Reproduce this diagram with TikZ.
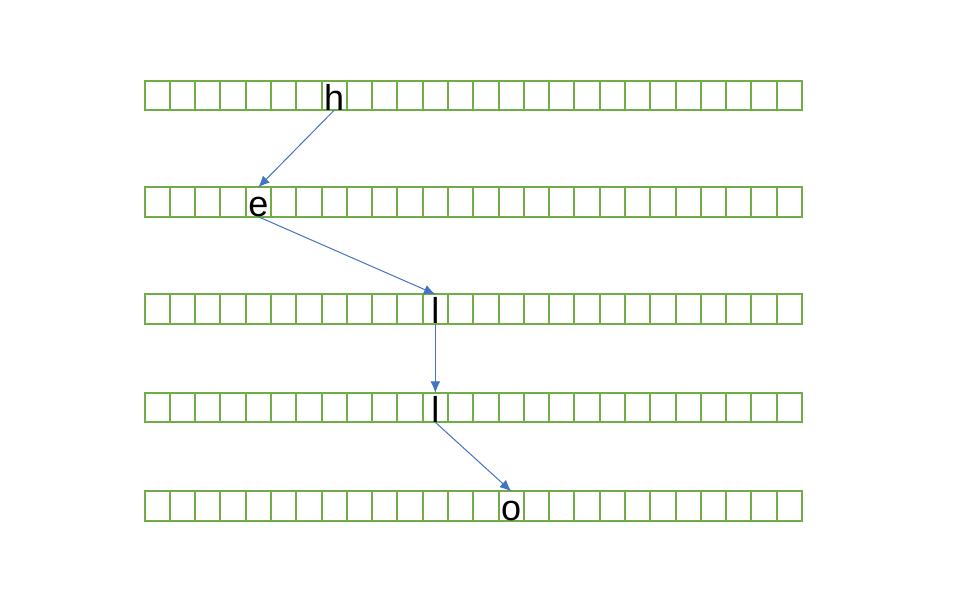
\documentclass[tikz,border=0pt]{standalone}
\usepackage{fontspec}
\setmainfont{Liberation Sans}
\usetikzlibrary{arrows.meta}

\definecolor{cellgreen}{RGB}{112,173,71}
\definecolor{arrowblue}{RGB}{68,114,196}

\tikzset{
  cellbox/.style={draw=cellgreen, line width=1.5pt, minimum width=18.97pt,
    minimum height=22.1pt, inner sep=0pt, outer sep=0pt},
  letter/.style={inner sep=0pt, font=\fontsize{27}{30}\selectfont},
  link/.style={arrowblue, line width=0.75pt, ->}
}

\begin{document}
\begin{tikzpicture}[x=0.75pt, y=-0.75pt, >={Latex[length=3mm, width=2.6mm]}]
  \useasboundingbox (0,0) rectangle (960,594);
  % five rows of 26 cells
  \foreach \r/\y in {1/95.5, 2/202, 3/309, 4/407.5, 5/506}
    \foreach \c in {0,...,25}
      \node[cellbox] (r\r-\c) at ({157.15+25.29*\c},\y) {};
  % letters
  \node[letter, anchor=base] (h)  at (r1-7.south)  {h};
  \node[letter, anchor=base] (e)  at (r2-4.south)  {e};
  \node[letter, anchor=base] (l1) at (r3-11.south) {l};
  \node[letter, anchor=base] (l2) at (r4-11.south) {l};
  \node[letter, anchor=base] (o)  at (r5-14.south) {o};
  % links
  \draw[link] (r1-7.south)  -- (r2-4.north);
  \draw[link] (r2-4.south)  -- (r3-11.north);
  \draw[link] (r3-11.south) -- (r4-11.north);
  \draw[link] (r4-11.south) -- (r5-14.north);
\end{tikzpicture}
\end{document}
